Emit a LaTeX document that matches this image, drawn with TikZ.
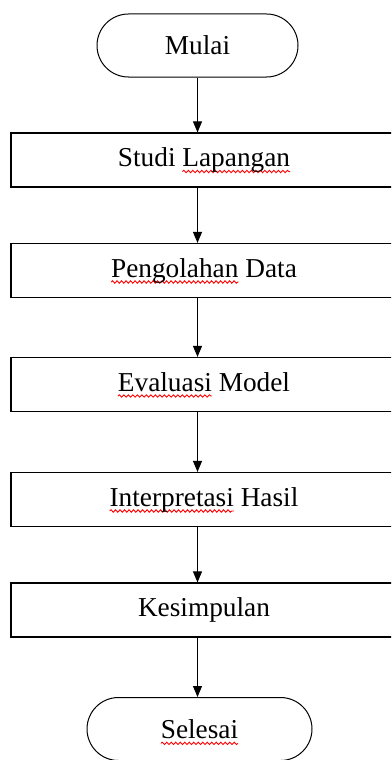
\documentclass[tikz,border=0pt]{standalone}
\usepackage{fontspec}
\setmainfont{Liberation Serif}
\usetikzlibrary{arrows.meta, decorations.pathmorphing}

% red wavy underline (spell-check mark)
\newcommand{\spellmark}[1]{%
    \setbox0\hbox{#1}%
    \rlap{\tikz[overlay, baseline=0pt]
        \draw[red, sharp corners, line width=0.9pt, decorate, decoration={snake, segment length=4.5pt, amplitude=1.2pt}]
            (0pt,-5pt) -- (\wd0,-5pt);}%
    \box0\relax}

\begin{document}
\begin{tikzpicture}[
        x=1pt, y=-1pt,
        font=\fontsize{27.3}{32}\selectfont,
        terminal/.style={draw, rectangle, rounded corners=31.5pt, line width=1pt, minimum height=63pt, inner sep=0pt},
        process/.style={draw, rectangle, line width=1.2pt, minimum width=386pt, minimum height=54pt, inner sep=0pt, text height=19pt, text depth=6pt},
        flowArrow/.style={-{Triangle[width=9pt,length=11pt]}, line width=1pt}
    ]

        % --- 画布 ---
        \useasboundingbox (0,0) rectangle (391,760);
        \clip (0,0) rectangle (391,760);

        % --- 1. 开始 / 结束 ---
        \node[terminal, minimum width=201pt] (mulai) at (197.5,45.5) {Mulai};
        \node[terminal, minimum width=225pt] (selesai) at (199.5,729) {\spellmark{Selesai}};

        % --- 2. 流程步骤 ---
        \node[process] (studi) at (204,160) {Studi \spellmark{Lapangan}};
        \node[process] (olah) at (204,270.5) {\spellmark{Pengolahan} Data};
        \node[process] (evaluasi) at (204,384.5) {\spellmark{Evaluasi} Model};
        \node[process] (interpretasi) at (204,499.5) {\spellmark{Interpretasi} Hasil};
        \node[process] (simpul) at (204,610) {Kesimpulan};

        % --- 3. 箭头 ---
        \draw[flowArrow] (mulai.south) -- (studi.north -| mulai.south);
        \foreach \a/\b in {studi/olah, olah/evaluasi, evaluasi/interpretasi, interpretasi/simpul, simpul/selesai} {
            \draw[flowArrow] (\a.south -| mulai.south) -- (\b.north -| mulai.south);
        }

    \end{tikzpicture}
\end{document}
